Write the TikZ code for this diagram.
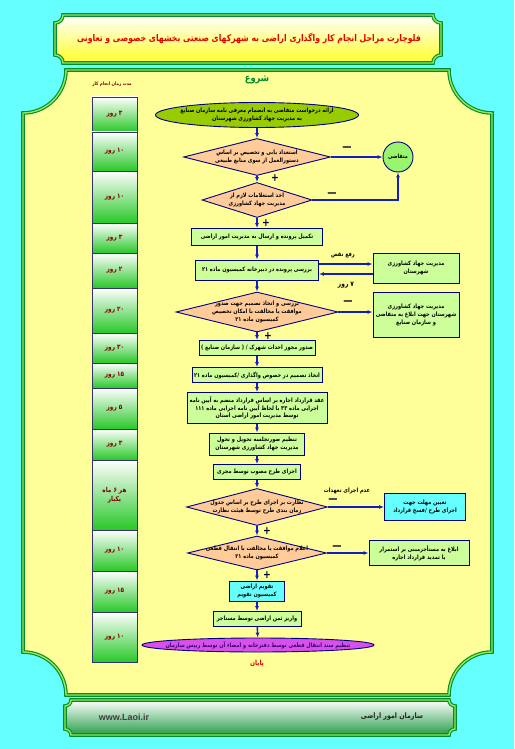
\documentclass[tikz,border=0pt]{standalone}
\usepackage{fontspec}
\usepackage{tikz}
\usetikzlibrary{shapes.geometric,arrows.meta,positioning,calc}
\usepackage{xcolor}
\newfontfamily\fafont[Script=Arabic, FakeStretch=0.84]{DejaVu Sans}
\newfontfamily\webfont{Liberation Sans}
\TeXXeTstate=1
\definecolor{skycyan}{RGB}{102,255,255}
\definecolor{panelyellow}{RGB}{255,255,153}
\definecolor{framegreen}{RGB}{0,140,40}
\definecolor{framelight}{RGB}{150,230,90}
\definecolor{navy}{RGB}{0,0,128}
\definecolor{arrowblue}{RGB}{20,30,200}
\definecolor{boxgreen}{RGB}{204,255,153}
\definecolor{boxcyan}{RGB}{102,255,255}
\definecolor{peach}{RGB}{255,204,153}
\definecolor{olivegreen}{RGB}{153,204,0}
\definecolor{clientgreen}{RGB}{153,245,110}
\definecolor{cellgreen}{RGB}{40,200,40}
\definecolor{cellframe}{RGB}{50,50,110}
\definecolor{darkred}{RGB}{128,0,0}
\definecolor{titlered}{RGB}{230,0,0}
\definecolor{endviolet}{RGB}{215,80,235}
\definecolor{endpink}{RGB}{250,150,250}
\definecolor{endtext}{RGB}{60,0,110}
\tikzset{
    bodytext/.style={
        font=\fontsize{6}{7.6}\fafont\bfseries,
        align=center,
        inner sep=0pt
    },
    stepbox/.style={
        bodytext,
        rectangle,
        draw=navy,
        line width=0.9pt,
        fill=boxgreen,
        inner sep=1pt
    },
    cyanbox/.style={
        stepbox,
        fill=boxcyan
    },
    decision/.style={
        diamond,
        draw=navy,
        line width=0.9pt,
        fill=peach,
        inner sep=0pt
    },
    terminal/.style={
        ellipse,
        draw=navy,
        line width=0.9pt,
        inner sep=0pt
    },
    flow/.style={
        -{Latex[length=5pt,width=4pt]},
        line width=1.4pt,
        arrowblue
    },
    daycell/.style={
        rectangle,
        draw=cellframe,
        line width=0.9pt,
        top color=white,
        bottom color=cellgreen,
        minimum width=45pt,
        inner sep=0pt,
        align=center,
        text=darkred,
        font=\fontsize{6.8}{8.5}\fafont\bfseries
    },
    possign/.style={
        font=\fontsize{11}{11}\fafont\bfseries,
        text=black!80!blue,
        inner sep=0pt
    },
    negsign/.style={
        possign
    },
    armlabel/.style={
        font=\fontsize{6}{7}\fafont\bfseries,
        inner sep=0pt
    },
    frame/.style={
        draw=framegreen,
        double=framelight,
        double distance=1.4pt,
        line width=1.1pt
    }
}
\begin{document}
\begin{tikzpicture}[x=1pt,y=-1pt]
    \useasboundingbox (0,0) rectangle (514,749);
    \fill[skycyan] (0,0) rectangle (514,749);

    % Title and frames
    \path[frame, top color=white, bottom color=yellow!85]
        (63,15) -- (433,15) .. controls (433,19.4) and (436.6,23) .. (441,23)
        -- (441,55) .. controls (436.6,55) and (433,58.6) .. (433,63)
        -- (63,63) .. controls (63,58.6) and (59.4,55) .. (55,55)
        -- (55,23) .. controls (59.4,23) and (63,19.4) .. (63,15) -- cycle;
    \node[font=\fontsize{9.2}{11}\fafont\bfseries, text=titlered] (title) at (249,38)
        {\beginR فلوچارت مراحل انجام کار واگذاری اراضی به شهرکهای صنعتی بخشهای  خصوصی و تعاونی\endR};
    \path[frame, fill=panelyellow]
        (66,70) -- (449,70) .. controls (449,93.7) and (468.3,113) .. (492,113)
        -- (492,652) .. controls (468.3,652) and (449,671.3) .. (449,695)
        -- (66,695) .. controls (66,671.3) and (46.7,652) .. (23,652)
        -- (23,113) .. controls (46.7,113) and (66,93.7) .. (66,70) -- cycle;
    \path[frame, top color=white, bottom color=framegreen!85]
        (71,700) -- (449,700) .. controls (449,703.3) and (451.7,706) .. (455,706)
        -- (455,729) .. controls (451.7,729) and (449,731.7) .. (449,735)
        -- (71,735) .. controls (71,731.7) and (68.3,729) .. (65,729)
        -- (65,706) .. controls (68.3,706) and (71,703.3) .. (71,700) -- cycle;
    \node[font=\webfont\bfseries\fontsize{9}{10}\selectfont, text=black!75] (web) at (124,717) {www.Laoi.ir};
    \node[font=\fontsize{7.5}{8}\fafont\bfseries, text=black!85] (org) at (392,717) {\beginR سازمان امور اراضی\endR};

    % Duration column
    \node[font=\fontsize{4.8}{6}\fafont\bfseries, text=darkred] (durtitle) at (112,84) {\beginR مدت زمان انجام کار\endR};
    \node[daycell, minimum height=35pt] (t1) at (114.5,114.5) {\beginR ۳ روز\endR};
    \node[daycell, minimum height=39pt] (t2) at (114.5,151.5) {\beginR ۱۰ روز\endR};
    \node[daycell, minimum height=52pt] (t3) at (114.5,197) {\beginR ۱۰ روز\endR};
    \node[daycell, minimum height=30pt] (t4) at (114.5,238) {\beginR ۳ روز\endR};
    \node[daycell, minimum height=35pt] (t5) at (114.5,270.5) {\beginR ۲ روز\endR};
    \node[daycell, minimum height=45pt] (t6) at (114.5,310.5) {\beginR ۲۰ روز\endR};
    \node[daycell, minimum height=30pt] (t7) at (114.5,348) {\beginR ۳۰ روز\endR};
    \node[daycell, minimum height=25pt] (t8) at (114.5,375.5) {\beginR ۱۵ روز\endR};
    \node[daycell, minimum height=41pt] (t9) at (114.5,408.5) {\beginR ۵ روز\endR};
    \node[daycell, minimum height=31pt] (t10) at (114.5,444.5) {\beginR ۳ روز\endR};
    \node[daycell, minimum height=70pt] (t11) at (114.5,495) {\beginR هر ۶ ماه\endR\\\beginR یکبار\endR};
    \node[daycell, minimum height=41pt] (t12) at (114.5,550.5) {\beginR ۱۰ روز\endR};
    \node[daycell, minimum height=41pt] (t13) at (114.5,591.5) {\beginR ۱۵ روز\endR};
    \node[daycell, minimum height=50pt] (t14) at (114.5,637) {\beginR ۱۰ روز\endR};

    % Main flow
    \node[font=\fontsize{10}{12}\fafont\bfseries, text=framegreen] (begin) at (257,80) {\beginR شروع\endR};
    \node[terminal, fill=olivegreen, minimum width=203pt, minimum height=25pt,
        label={[bodytext]center:{\beginR ارائه درخواست متقاضی به انضمام معرفی نامه سازمان صنایع\endR\\\beginR به مدیریت جهاد کشاورزی شهرستان\endR}}] (start) at (257,115) {};
    \node[decision, minimum width=147pt, minimum height=37pt,
        label={[bodytext]center:{\beginR استعداد یابی و تخصیص بر اساس\endR\\\beginR دستورالعمل از سوی منابع طبیعی\endR}}] (d1) at (257,157) {};
    \node[circle, draw=navy, line width=0.9pt, fill=clientgreen, minimum size=30pt, inner sep=0pt,
        font=\fontsize{5.8}{6}\fafont\bfseries] (client) at (398,157) {\beginR متقاضی\endR};
    \node[decision, minimum width=110pt, minimum height=35pt,
        label={[bodytext]center:{\beginR اخذ استعلامات لازم از\endR\\\beginR مدیریت جهاد کشاورزی\endR}}] (d2) at (257,200) {};
    \node[stepbox, minimum width=131pt, minimum height=17pt] (prep) at (257,237) {\beginR تکمیل پرونده و ارسال به مدیریت امور اراضی\endR};
    \node[stepbox, minimum width=123pt, minimum height=20pt] (review) at (257,270) {\beginR بررسی پرونده در دبیرخانه کمیسیون ماده ۲۱\endR};
    \node[stepbox, minimum width=86pt, minimum height=30pt] (jahad1) at (416,268) {\beginR مدیریت جهاد کشاورزی\endR\\\beginR شهرستان\endR};
    \node[decision, minimum width=162pt, minimum height=40pt,
        label={[bodytext]center:{\beginR بررسی و اتخاذ تصمیم جهت صدور\endR\\\beginR موافقت یا مخالفت با امکان تخصیص\endR\\\beginR کمیسیون ماده ۲۱\endR}}] (d3) at (257,312) {};
    \node[stepbox, minimum width=86pt, minimum height=45pt] (jahad2) at (416,315) {\beginR مدیریت جهاد کشاورزی\endR\\\beginR شهرستان جهت ابلاغ به متقاضی\endR\\\beginR و سازمان صنایع\endR};
    \node[stepbox, minimum width=116pt, minimum height=15pt] (permit) at (257,348) {\beginR صدور مجوز احداث شهرک / ( سازمان صنایع )\endR};
    \node[stepbox, minimum width=130pt, minimum height=15pt] (assign) at (257,375) {\beginR اتخاذ تصمیم در خصوص واگذاری /کمیسیون ماده ۲۱\endR};
    \node[stepbox, minimum width=140pt, minimum height=31pt] (lease) at (257,408) {\beginR عقد قرارداد اجاره بر اساس قرارداد منضم به آیین نامه\endR\\\beginR اجرایی ماده ۳۳ با لحاظ آیین نامه  اجرایی ماده ۱۱۱\endR\\\beginR توسط مدیریت امور اراضی استان\endR};
    \node[stepbox, minimum width=95pt, minimum height=22pt] (handover) at (257,444) {\beginR تنظیم صورتجلسه تحویل و تحول\endR\\\beginR مدیریت جهاد کشاورزی شهرستان\endR};
    \node[stepbox, minimum width=87pt, minimum height=15pt] (build) at (257,472) {\beginR اجرای طرح مصوب توسط مجری\endR};
    \node[decision, minimum width=141pt, minimum height=37pt,
        label={[bodytext]center:{\beginR نظارت بر اجرای طرح بر اساس جدول\endR\\\beginR زمان بندی طرح توسط هیئت نظارت\endR}}] (d4) at (257,507) {};
    \node[cyanbox, minimum width=81pt, minimum height=27pt] (deadline) at (425,507) {\beginR تعیین مهلت جهت\endR\\\beginR اجرای طرح /فسخ قرارداد\endR};
    \node[decision, minimum width=139pt, minimum height=34pt,
        label={[bodytext]center:{\beginR اعلام موافقت یا مخالفت با انتقال قطعی\endR\\\beginR کمیسیون ماده ۲۱\endR}}] (d5) at (257,553) {};
    \node[stepbox, minimum width=100pt, minimum height=25pt] (notify) at (419,553) {\beginR ابلاغ به مستأجرمبنی بر استمرار\endR\\\beginR یا تمدید قرارداد  اجاره\endR};
    \node[cyanbox, minimum width=55pt, minimum height=20pt] (valuate) at (257,591) {\beginR تقویم اراضی\endR\\\beginR کمیسیون تقویم\endR};
    \node[stepbox, minimum width=88pt, minimum height=15pt] (pay) at (257,619) {\beginR واریز ثمن اراضی توسط مستاجر\endR};
    \node[terminal, top color=endviolet, middle color=endpink, bottom color=endviolet, minimum width=232pt, minimum height=14pt,
        label={[bodytext, text=endtext]center:{\beginR تنظیم سند انتقال قطعی توسط دفترخانه و امضاء آن توسط رییس سازمان\endR}}] (finish) at (258,645) {};
    \node[font=\fontsize{7}{8}\fafont\bfseries, text=titlered] (finishtxt) at (257,664) {\beginR پایان\endR};

    % Connectors
    \draw[flow] (start) -- (d1);
    \draw[flow] (d1) -- (d2);
    \draw[flow] (d2) -- (prep);
    \draw[flow] (prep) -- (review);
    \draw[flow] (review) -- (d3);
    \draw[flow] (d3) -- (permit);
    \draw[flow] (permit) -- (assign);
    \draw[flow] (assign) -- (lease);
    \draw[flow] (lease) -- (handover);
    \draw[flow] (handover) -- (build);
    \draw[flow] (build) -- (d4);
    \draw[flow] (d4) -- (d5);
    \draw[flow] (d5) -- (valuate);
    \draw[flow] (valuate) -- (pay);
    \draw[flow] (pay) -- (finish);
    \draw[flow] (d1.east) -- (client.west);
    \draw[flow] (d2.east) -| (client.south);
    \draw[flow] ([yshift=6pt]review.east) -- ([yshift=6pt]review.east -| jahad1.west);
    \draw[flow] ([yshift=-4pt]review.east -| jahad1.west) -- ([yshift=-4pt]review.east);
    \draw[flow] (d3.east) -- (d3.east -| jahad2.west);
    \draw[flow] (d4.east) -- (deadline.west);
    \draw[flow] (d5.east) -- (notify.west);

    % Signs and arm labels
    \node[negsign] (n1) at (347,149) {—};
    \node[negsign] (n2) at (332,195) {—};
    \node[negsign] (n3) at (348,303) {—};
    \node[negsign] (n4) at (333,501) {—};
    \node[negsign] (n5) at (337,548) {—};
    \node[possign] (p1) at (275,178) {+};
    \node[possign] (p2) at (266,223) {+};
    \node[possign] (p3) at (268,336) {+};
    \node[possign] (p4) at (267,531) {+};
    \node[possign] (p5) at (267,575) {+};
    \node[armlabel] (fixlabel) at (343,255) {\beginR رفع نقص\endR};
    \node[armlabel, font=\fontsize{7}{8}\fafont\bfseries] (weeklabel) at (346,285) {\beginR ۷ روز\endR};
    \node[armlabel] (faillabel) at (347,491) {\beginR عدم اجرای تعهدات\endR};
\end{tikzpicture}
\end{document}
